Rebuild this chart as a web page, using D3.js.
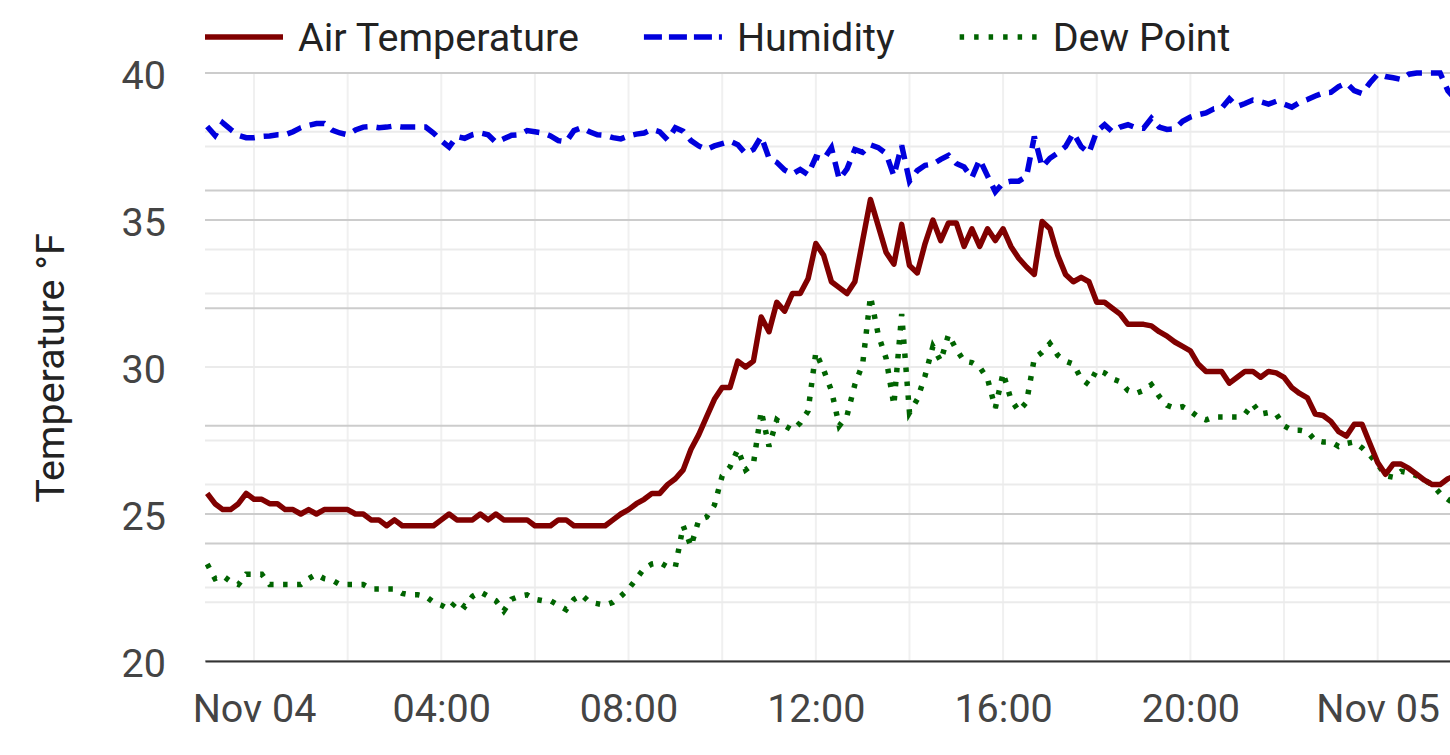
<!DOCTYPE html>
<html>
<head>
<meta charset="utf-8">
<script src="https://cdn.jsdelivr.net/npm/d3@7"></script>
<style>
  body { margin: 0; background: #fff; }
  svg { display: block; font-family: Roboto, "Noto Sans", sans-serif; }
</style>
</head>
<body>
<svg id="chart" width="1450" height="755"></svg>
<script>
// readings every 10 minutes, starting Nov 03 23:00
const startTime = new Date("2022-11-03T23:00:00Z");
const stepMinutes = 10;

const airTemp = [
  25.7, 25.35, 25.15, 25.15, 25.35, 25.7, 25.5, 25.5, 25.35, 25.35,
  25.15, 25.15, 25.0, 25.15, 25.0, 25.15, 25.15, 25.15, 25.15, 25.0,
  25.0, 24.8, 24.8, 24.6, 24.8, 24.6, 24.6, 24.6, 24.6, 24.6,
  24.8, 25.0, 24.8, 24.8, 24.8, 25.0, 24.8, 25.0, 24.8, 24.8,
  24.8, 24.8, 24.6, 24.6, 24.6, 24.8, 24.8, 24.6, 24.6, 24.6,
  24.6, 24.6, 24.8, 25.0, 25.15, 25.35, 25.5, 25.7, 25.7, 26.0,
  26.2, 26.5, 27.2, 27.7, 28.3, 28.9, 29.3, 29.3, 30.2, 30.0,
  30.2, 31.7, 31.2, 32.2, 31.9, 32.5, 32.5, 33.0, 34.2, 33.8,
  32.9, 32.7, 32.5, 32.9, 34.3, 35.7, 34.8, 33.9, 33.5, 34.85,
  33.45, 33.2, 34.2, 35.0, 34.3, 34.9, 34.9, 34.1, 34.7, 34.1,
  34.7, 34.3, 34.7, 34.1, 33.7, 33.4, 33.15, 34.95, 34.7, 33.8,
  33.15, 32.9, 33.05, 32.9, 32.2, 32.2, 32.0, 31.8, 31.45, 31.45,
  31.45, 31.4, 31.2, 31.05, 30.85, 30.7, 30.55, 30.1, 29.85, 29.85,
  29.85, 29.45, 29.65, 29.85, 29.85, 29.65, 29.85, 29.8, 29.65, 29.3,
  29.1, 28.95, 28.4, 28.35, 28.15, 27.8, 27.65, 28.05, 28.05, 27.4,
  26.75, 26.35, 26.7, 26.7, 26.55, 26.35, 26.15, 26.0, 26.0, 26.2,
  26.3
];

const humidity = [
  90.9, 89.4, 91.5, 90.4, 89.4, 89.0, 89.0, 89.2, 89.3, 89.5,
  89.5, 90.0, 90.7, 91.1, 91.4, 91.4, 90.3, 89.8, 89.5, 90.3,
  90.8, 90.9, 90.7, 90.8, 91.0, 90.8, 90.8, 90.8, 90.8, 89.8,
  88.5, 87.4, 89.2, 88.9, 89.5, 89.8, 89.5, 88.2, 88.8, 89.4,
  89.5, 90.2, 90.0, 89.8, 89.3, 88.5, 88.3, 90.2, 90.7, 90.0,
  89.5, 89.4, 89.0, 88.8, 89.3, 89.6, 89.8, 90.4, 90.0, 88.6,
  90.7, 90.1, 88.5, 87.6, 87.0, 87.6, 88.0, 88.4, 87.8, 86.3,
  87.0, 89.2, 85.5, 84.8, 83.5, 82.8, 83.6, 82.7, 85.7, 85.3,
  87.3, 81.9, 83.7, 87.0, 86.5, 87.8, 87.3, 86.3, 82.5, 87.7,
  81.6, 83.4, 84.3, 84.5, 85.3, 86.0, 84.6, 84.0, 82.2, 85.3,
  82.5, 79.8, 81.3, 81.6, 81.6, 82.4, 89.2, 84.0, 85.5, 86.4,
  87.5, 89.8, 87.5, 86.4, 90.1, 91.2, 90.0, 90.8, 91.2, 90.7,
  90.6, 92.3, 90.8, 90.4, 90.5, 91.8, 92.5, 92.9, 93.2, 93.9,
  94.0, 95.6, 94.3, 94.8, 95.4, 95.1, 94.7, 95.2, 94.7, 94.2,
  95.0, 95.5, 96.1, 96.6, 96.7, 97.7, 98.3, 97.0, 96.5, 98.3,
  99.8, 99.4, 99.2, 98.9, 99.8, 100, 100, 100, 100, 97.0,
  95.5
];

const dewPoint = [
  23.3, 22.8, 22.9, 22.7, 22.6, 22.95, 22.95, 22.95, 22.6, 22.6,
  22.6, 22.6, 22.6, 22.8, 22.95, 22.8, 22.75, 22.6, 22.6, 22.6,
  22.6, 22.45, 22.45, 22.45, 22.45, 22.3, 22.25, 22.25, 22.2, 22.0,
  21.9, 21.75, 22.05, 21.85, 22.2, 22.35, 22.2, 22.05, 21.7, 22.1,
  22.2, 22.25, 22.1, 22.05, 22.05, 21.9, 21.75, 22.1, 22.25, 22.0,
  21.95, 21.9, 22.0, 22.2, 22.45, 22.8, 23.15, 23.3, 23.35, 23.2,
  23.2, 24.6, 23.9, 24.8, 24.9, 25.3, 26.3, 26.6, 27.2, 26.5,
  26.7, 28.5, 27.3, 28.2, 28.0, 27.85, 28.1, 28.5, 30.5, 29.9,
  29.2, 28.0, 28.35, 29.4, 30.1, 32.4, 31.1, 30.3, 28.7, 31.8,
  28.45, 28.9, 29.7, 30.7, 30.2, 31.1, 30.6, 30.2, 30.15, 30.0,
  29.6, 28.6, 29.8, 28.9, 28.5, 28.8, 30.3, 30.5, 30.8, 30.4,
  30.2, 30.1, 29.6, 29.4, 29.9, 29.8, 29.6, 29.5, 29.2, 29.1,
  29.2, 29.4, 29.0, 28.7, 28.6, 28.65, 28.5, 28.3, 28.2, 28.3,
  28.3, 28.3, 28.3, 28.4, 28.75, 28.4, 28.45, 28.4, 28.0, 27.85,
  27.85, 27.8, 27.5, 27.45, 27.45, 27.3, 27.4, 27.45, 27.25, 27.0,
  26.7, 26.3, 26.25, 26.45, 26.4, 26.3, 26.15, 26.0, 25.7, 25.5,
  25.3
];

const seriesNames = ["Air Temperature", "Humidity", "Dew Point"];
const tempTicks = [20, 25, 30, 35, 40];
const tempMinorTicks = [22.5, 27.5, 32.5, 37.5];
const humidityTicks = [0, 20, 40, 60, 80, 100];
const humidityMinorTicks = [10, 30, 50, 70, 90];

const chartApp = {
    svg: null,
    width: 1450,
    height: 755,
    margin: { top: 73, right: 0, bottom: 94, left: 205 },
    fontSize: "39.5px",

    init: function() {
        this.svg = d3.select("#chart");
        this.innerW = this.width - this.margin.left - this.margin.right;
        this.innerH = this.height - this.margin.top - this.margin.bottom;

        this.times = airTemp.map((d, i) => d3.utcMinute.offset(startTime, i * stepMinutes));

        this.x = d3.scaleUtc()
            .domain([new Date("2022-11-03T22:57:12Z"), new Date("2022-11-05T01:32:42Z")])
            .range([0, this.innerW]);
        this.y = d3.scaleLinear().domain([20, 40]).range([this.innerH, 0]);
        this.y2 = d3.scaleLinear().domain([0, 100]).range([this.innerH, 0]);

        this.g = this.svg.append("g")
            .attr("transform", `translate(${this.margin.left},${this.margin.top})`);

        this.drawGrid();
        this.drawAxes();
        this.drawLines();
        this.drawLegend();
    },

    drawGrid: function() {
        const grid = this.g.append("g").attr("class", "grid");
        const hourTicks = this.x.ticks(d3.utcHour.every(2));

        grid.selectAll("line.v")
            .data(hourTicks)
            .enter().append("line")
            .attr("x1", d => this.x(d)).attr("x2", d => this.x(d))
            .attr("y1", 0).attr("y2", this.innerH)
            .attr("stroke", "#f0f0f0").attr("stroke-width", 2);

        // draw order matters: humidity minor lines sit on top of the temperature lines
        const rows = [
            { ticks: tempMinorTicks, scale: this.y, color: "#ebebeb" },
            { ticks: tempTicks, scale: this.y, color: "#cccccc" },
            { ticks: humidityTicks, scale: this.y2, color: "#cccccc" },
            { ticks: humidityMinorTicks, scale: this.y2, color: "#ebebeb" }
        ];
        rows.forEach(r => {
            grid.append("g").selectAll("line")
                .data(r.ticks)
                .enter().append("line")
                .attr("x1", 0).attr("x2", this.innerW)
                .attr("y1", d => r.scale(d)).attr("y2", d => r.scale(d))
                .attr("stroke", r.color).attr("stroke-width", 2);
        });
    },

    drawAxes: function() {
        const fmtDay = d3.utcFormat("%b %d");
        const fmtHour = d3.utcFormat("%H:%M");

        const xAxis = this.g.append("g")
            .attr("transform", `translate(0,${this.innerH})`)
            .call(d3.axisBottom(this.x)
                .ticks(d3.utcHour.every(4))
                .tickFormat(d => d.getUTCHours() === 0 ? fmtDay(d) : fmtHour(d))
                .tickSize(0)
                .tickSizeOuter(0));
        xAxis.select(".domain").attr("stroke", "#333").attr("stroke-width", 2);
        xAxis.selectAll("text")
            .attr("y", 61).attr("dy", null)
            .attr("font-size", this.fontSize).attr("font-family", "Roboto")
            .attr("fill", "#444");

        const yAxis = this.g.append("g")
            .call(d3.axisLeft(this.y).tickValues(tempTicks).tickSize(0));
        yAxis.select(".domain").remove();
        yAxis.selectAll("text")
            .attr("x", -39).attr("dy", 15)
            .attr("font-size", this.fontSize).attr("font-family", "Roboto")
            .attr("fill", "#444");

        this.svg.append("text")
            .attr("transform", `translate(64,${this.margin.top + this.innerH / 2 + 1}) rotate(-90)`)
            .attr("text-anchor", "middle")
            .attr("font-size", this.fontSize)
            .attr("fill", "#222")
            .text("Temperature °F");
    },

    drawLines: function() {
        this.svg.append("clipPath").attr("id", "plotClip")
            .append("rect")
            .attr("x", 0).attr("y", -20)
            .attr("width", this.innerW).attr("height", this.innerH + 20);

        const lines = this.g.append("g").attr("clip-path", "url(#plotClip)");
        const tempLine = d3.line().x((d, i) => this.x(this.times[i])).y(d => this.y(d));
        const humLine = d3.line().x((d, i) => this.x(this.times[i])).y(d => this.y2(d));

        lines.append("path").datum(dewPoint)
            .attr("d", tempLine)
            .attr("fill", "none").attr("stroke", "#006400")
            .attr("stroke-width", 5.5).attr("stroke-dasharray", "4.5,9.5");

        lines.append("path").datum(humidity)
            .attr("d", humLine)
            .attr("fill", "none").attr("stroke", "#0000dd")
            .attr("stroke-width", 5.5).attr("stroke-dasharray", "15,9");

        lines.append("path").datum(airTemp)
            .attr("d", tempLine)
            .attr("fill", "none").attr("stroke", "#800000")
            .attr("stroke-width", 5.5).attr("stroke-linejoin", "round");
    },

    drawLegend: function() {
        const styles = [
            { color: "#800000", dash: null },
            { color: "#0000dd", dash: "18,7" },
            { color: "#006400", dash: "4.5,10" }
        ];
        const legend = this.svg.append("g").attr("transform", "translate(205,37)");
        let xPos = 0;
        seriesNames.forEach((name, i) => {
            const item = legend.append("g").attr("transform", `translate(${xPos},0)`);
            item.append("line")
                .attr("x1", 0).attr("x2", 78)
                .attr("stroke", styles[i].color)
                .attr("stroke-width", 5.5)
                .attr("stroke-dasharray", styles[i].dash);
            const label = item.append("text")
                .attr("x", 93).attr("y", 14)
                .attr("font-size", this.fontSize)
                .attr("fill", "#222")
                .text(name);
            xPos += 93 + label.node().getComputedTextLength() + 65;
        });
    }
};

window.onload = function() {
    chartApp.init();
};
</script>
</body>
</html>
